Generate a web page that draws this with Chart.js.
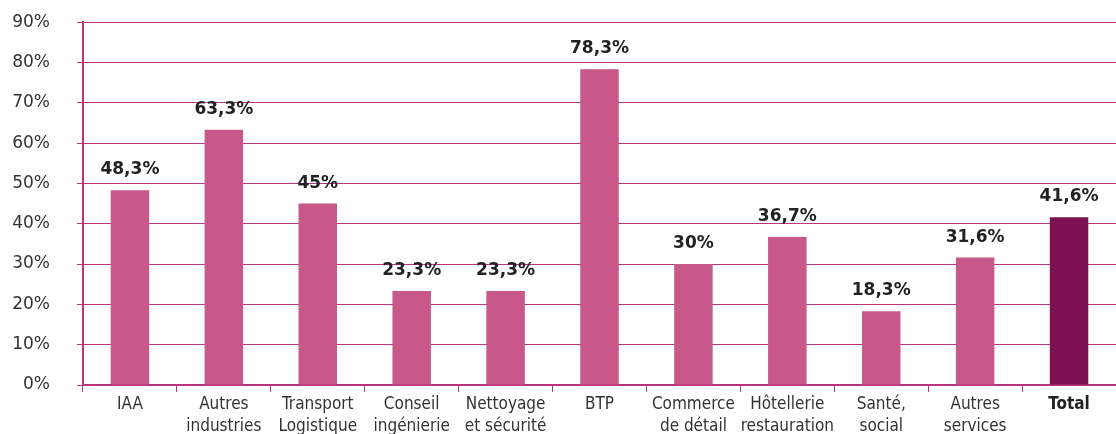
<!DOCTYPE html>
<html>
<head>
<meta charset="utf-8">
<script src="https://cdn.jsdelivr.net/npm/chart.js@4"></script>
<style>
  html, body { margin: 0; padding: 0; background: #fff; overflow: hidden; }
  #wrap { width: 1116px; height: 463px; position: relative; margin-top: -15px; }
</style>
</head>
<body>
<div id="wrap"><canvas id="chart"></canvas></div>
<script>
const categories = [
  "IAA",
  ["Autres", "industries"],
  ["Transport", "Logistique"],
  ["Conseil", "ingénierie"],
  ["Nettoyage", "et sécurité"],
  "BTP",
  ["Commerce", "de détail"],
  ["Hôtellerie", "restauration"],
  ["Santé,", "social"],
  ["Autres", "services"],
  "Total"
];
const values = [48.3, 63.3, 45, 23.3, 23.3, 78.3, 30, 36.7, 18.3, 31.6, 41.6];
const valueLabels = ["48,3%", "63,3%", "45%", "23,3%", "23,3%", "78,3%", "30%", "36,7%", "18,3%", "31,6%", "41,6%"];
const barColors = values.map((v, i) => i === values.length - 1 ? "#7b1150" : "#c8588a");

const FONT = "'DejaVu Sans', sans-serif";
const FONT_COND = "'DejaVu Sans Condensed', 'DejaVu Sans', sans-serif";

// draws the bold percentages above the bars
const valueLabelPlugin = {
  id: "valueLabels",
  afterDatasetsDraw(chart) {
    const ctx = chart.ctx;
    const meta = chart.getDatasetMeta(0);
    ctx.save();
    ctx.font = "bold 17px " + FONT;
    ctx.fillStyle = "#222";
    ctx.textAlign = "center";
    ctx.textBaseline = "alphabetic";
    meta.data.forEach((bar, i) => {
      ctx.fillText(valueLabels[i], bar.x, bar.y - 16);
    });
    ctx.restore();
  }
};

new Chart(document.getElementById("chart"), {
  type: "bar",
  data: {
    labels: categories,
    datasets: [{
      data: values,
      backgroundColor: barColors,
      barPercentage: 0.41,
      categoryPercentage: 1
    }]
  },
  options: {
    responsive: true,
    maintainAspectRatio: false,
    animation: false,
    layout: { padding: { top: 0, right: 0, left: 0, bottom: 0 } },
    plugins: {
      legend: { display: false },
      tooltip: { enabled: false }
    },
    scales: {
      x: {
        offset: true,
        grid: {
          offset: true,
          drawOnChartArea: false,
          drawTicks: true,
          tickLength: 7,
          color: "#b8357f",
          lineWidth: 1
        },
        border: { color: "#b8327e", width: 2 },
        ticks: {
          color: (c) => c.index === categories.length - 1 ? "#222" : "#333",
          font: (c) => ({
            family: FONT_COND,
            size: 17,
            weight: c.index === categories.length - 1 ? "bold" : "normal",
            lineHeight: 1.28
          }),
          padding: 2,
          maxRotation: 0,
          autoSkip: false
        },
        afterFit(scale) { scale.height = 63; }
      },
      y: {
        min: 0,
        max: 90,
        ticks: {
          stepSize: 10,
          color: "#333",
          font: { family: FONT, size: 17 },
          padding: 27,
          callback: (v) => v + "%"
        },
        grid: {
          color: "#b8357f",
          lineWidth: 1,
          tickLength: 6
        },
        border: { color: "#b8327e", width: 2 },
        afterFit(scale) { scale.width = 83; }
      }
    }
  },
  plugins: [valueLabelPlugin]
});
</script>
</body>
</html>
